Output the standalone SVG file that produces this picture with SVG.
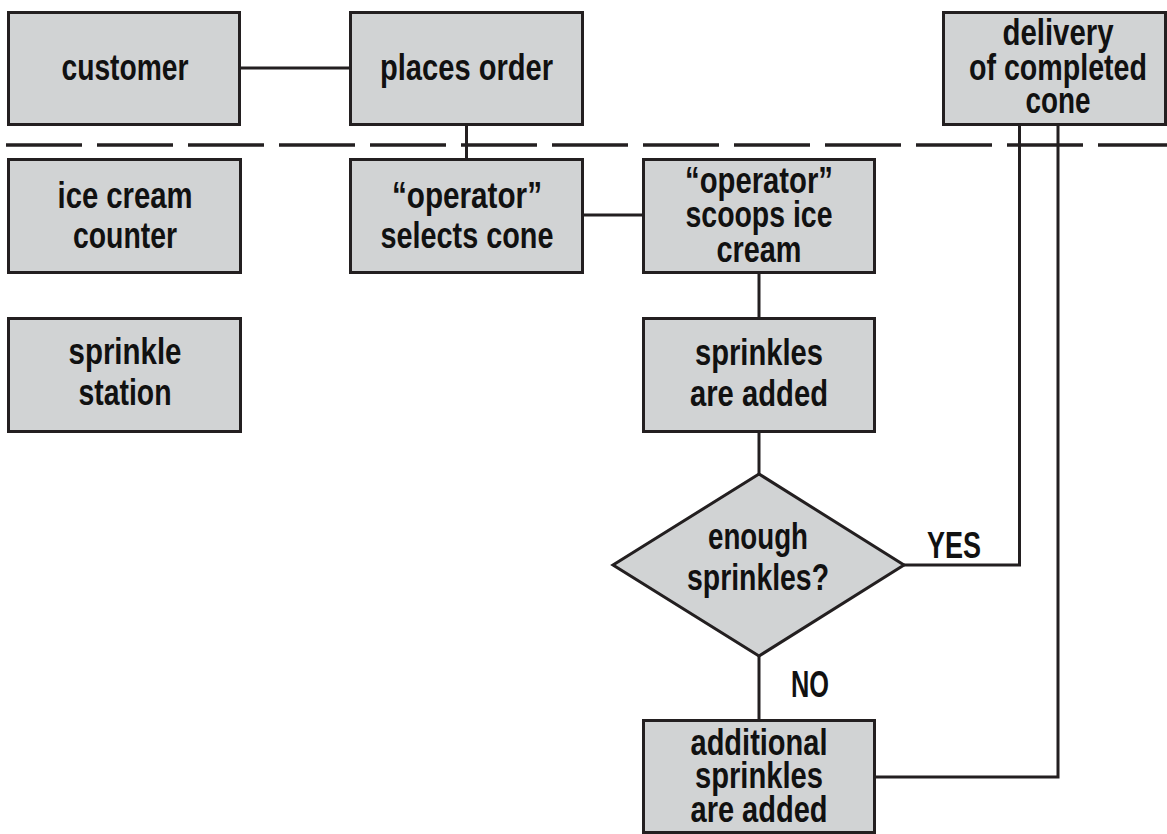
<svg xmlns="http://www.w3.org/2000/svg" width="1167" height="834" viewBox="0 0 1167 834">
<style>
.box{fill:#d1d3d4;stroke:#231f20;stroke-width:3}
.ln{fill:none;stroke:#231f20;stroke-width:3}
.dash{fill:none;stroke:#231f20;stroke-width:3.5;stroke-dasharray:76 15}
text{font-family:"Liberation Sans","DejaVu Sans",Arial,sans-serif;font-weight:bold;font-size:37px;fill:#111;text-anchor:middle}
.lbl{font-size:37px}
</style>
<rect width="1167" height="834" fill="#fff"/>
<line class="dash" x1="6" y1="145" x2="1167" y2="145"/>
<g id="connectors">
<path class="ln" d="M241 68H349"/>
<path class="ln" d="M466.5 126V158"/>
<path class="ln" d="M584 215H642"/>
<path class="ln" d="M759 274V317"/>
<path class="ln" d="M759 433V474"/>
<path class="ln" d="M759 656V719"/>
<path class="ln" d="M904 565H1019.5V126"/>
<path class="ln" d="M876 777H1058V126"/>
<text class="lbl" x="954" y="558" textLength="54" lengthAdjust="spacingAndGlyphs">YES</text>
<text class="lbl" x="810" y="697" textLength="38" lengthAdjust="spacingAndGlyphs">NO</text>
</g>
<g id="customer">
<rect class="box" x="8.5" y="12.5" width="231" height="112"/>
<text x="125" y="80" textLength="127" lengthAdjust="spacingAndGlyphs">customer</text>
</g>
<g id="places-order">
<rect class="box" x="350.5" y="12.5" width="232" height="112"/>
<text x="466.5" y="80" textLength="173" lengthAdjust="spacingAndGlyphs">places order</text>
</g>
<g id="delivery">
<rect class="box" x="943.5" y="12.5" width="222" height="112"/>
<text x="1058" y="45" textLength="111" lengthAdjust="spacingAndGlyphs">delivery</text>
<text x="1058" y="80" textLength="178" lengthAdjust="spacingAndGlyphs">of completed</text>
<text x="1058" y="113" textLength="65" lengthAdjust="spacingAndGlyphs">cone</text>
</g>
<g id="ice-cream-counter">
<rect class="box" x="8.5" y="159.5" width="232" height="113"/>
<text x="125" y="208" textLength="135" lengthAdjust="spacingAndGlyphs">ice cream</text>
<text x="125" y="248" textLength="104" lengthAdjust="spacingAndGlyphs">counter</text>
</g>
<g id="sprinkle-station">
<rect class="box" x="8.5" y="318.5" width="232" height="113"/>
<text x="125" y="364" textLength="113" lengthAdjust="spacingAndGlyphs">sprinkle</text>
<text x="125" y="405" textLength="93" lengthAdjust="spacingAndGlyphs">station</text>
</g>
<g id="selects-cone">
<rect class="box" x="350.5" y="159.5" width="232" height="113"/>
<text x="467" y="208" textLength="150" lengthAdjust="spacingAndGlyphs">“operator”</text>
<text x="467" y="248" textLength="173" lengthAdjust="spacingAndGlyphs">selects cone</text>
</g>
<g id="scoops">
<rect class="box" x="643.5" y="159.5" width="231" height="113"/>
<text x="759" y="193" textLength="148" lengthAdjust="spacingAndGlyphs">“operator”</text>
<text x="759" y="227" textLength="147" lengthAdjust="spacingAndGlyphs">scoops ice</text>
<text x="759" y="262" textLength="85" lengthAdjust="spacingAndGlyphs">cream</text>
</g>
<g id="sprinkles-added">
<rect class="box" x="643.5" y="318.5" width="231" height="113"/>
<text x="759" y="365" textLength="128" lengthAdjust="spacingAndGlyphs">sprinkles</text>
<text x="759" y="406" textLength="138" lengthAdjust="spacingAndGlyphs">are added</text>
</g>
<g id="enough-sprinkles">
<polygon class="box" points="613,565 759,474 904,565 759,656"/>
<text x="758" y="549" textLength="100" lengthAdjust="spacingAndGlyphs">enough</text>
<text x="758" y="590" textLength="142" lengthAdjust="spacingAndGlyphs">sprinkles?</text>
</g>
<g id="additional-sprinkles">
<rect class="box" x="643.5" y="720.5" width="231" height="112"/>
<text x="759" y="755" textLength="137" lengthAdjust="spacingAndGlyphs">additional</text>
<text x="759" y="788" textLength="128" lengthAdjust="spacingAndGlyphs">sprinkles</text>
<text x="759" y="822" textLength="137" lengthAdjust="spacingAndGlyphs">are added</text>
</g>
</svg>
